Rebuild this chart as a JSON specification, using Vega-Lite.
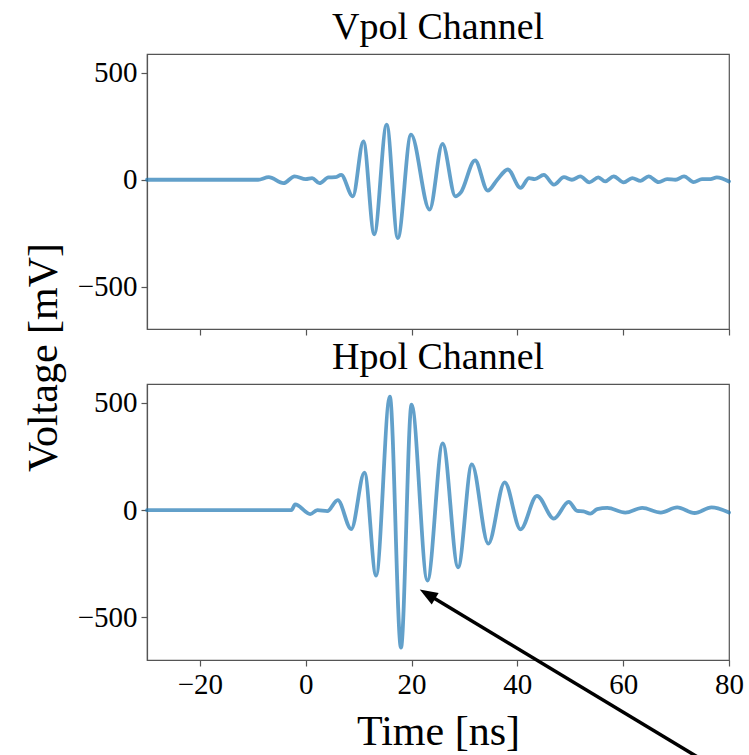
{
  "$schema": "https://vega.github.io/schema/vega-lite/v6.json",
  "background": "white",
  "padding": {"left": 21, "top": 8, "right": 10, "bottom": 0},
  "bounds": "flush",
  "spacing": 55,
  "datasets": {
    "vpol": [
      {"t": -30, "v": 0}, {"t": -9, "v": 0}, {"t": -7, "v": 12}, {"t": -4.2, "v": -16}, {"t": -2.1, "v": 16},
      {"t": 0, "v": 3}, {"t": 1.2, "v": 8}, {"t": 2.6, "v": -16}, {"t": 4.3, "v": 11}, {"t": 5.6, "v": 12},
      {"t": 6.7, "v": 23}, {"t": 8.9, "v": -78}, {"t": 10.9, "v": 180}, {"t": 12.95, "v": -255}, {"t": 15.3, "v": 258},
      {"t": 17.4, "v": -273}, {"t": 19.9, "v": 211}, {"t": 23.4, "v": -140}, {"t": 25.85, "v": 168}, {"t": 28.3, "v": -78},
      {"t": 29.3, "v": -60}, {"t": 32.0, "v": 91}, {"t": 34.4, "v": -51}, {"t": 36.2, "v": 0}, {"t": 38.2, "v": 48},
      {"t": 40.6, "v": -38}, {"t": 42.2, "v": 8}, {"t": 43.3, "v": 3}, {"t": 45.0, "v": 23}, {"t": 46.9, "v": -23},
      {"t": 48.8, "v": 12}, {"t": 50.3, "v": 0}, {"t": 51.9, "v": 16}, {"t": 53.6, "v": -12}, {"t": 55.3, "v": 11},
      {"t": 56.6, "v": -8}, {"t": 58.2, "v": 16}, {"t": 60.1, "v": -12}, {"t": 61.7, "v": 8}, {"t": 63.3, "v": -5},
      {"t": 64.8, "v": 16}, {"t": 66.7, "v": -11}, {"t": 68.3, "v": 3}, {"t": 69.9, "v": 0}, {"t": 71.5, "v": 16},
      {"t": 73.3, "v": -11}, {"t": 74.9, "v": 3}, {"t": 76.5, "v": 3}, {"t": 77.7, "v": 11}, {"t": 80, "v": -8}
    ],
    "hpol": [
      {"t": -30, "v": 0}, {"t": -2.7, "v": 0}, {"t": -2.0, "v": 27}, {"t": 0.85, "v": -18}, {"t": 2.2, "v": 0},
      {"t": 4.1, "v": -4}, {"t": 6.05, "v": 47}, {"t": 8.6, "v": -88}, {"t": 11.1, "v": 175}, {"t": 13.3, "v": -305},
      {"t": 15.9, "v": 530}, {"t": 18.0, "v": -641}, {"t": 20.0, "v": 492}, {"t": 23.0, "v": -328}, {"t": 25.9, "v": 312},
      {"t": 28.8, "v": -266}, {"t": 31.4, "v": 214}, {"t": 34.5, "v": -156}, {"t": 37.6, "v": 130}, {"t": 40.6, "v": -89},
      {"t": 43.7, "v": 67}, {"t": 46.9, "v": -39}, {"t": 49.7, "v": 39}, {"t": 51.3, "v": -3}, {"t": 52.5, "v": -5},
      {"t": 53.8, "v": -16}, {"t": 55.1, "v": 5}, {"t": 57.0, "v": 11}, {"t": 60.4, "v": -11}, {"t": 63.6, "v": 11},
      {"t": 67.1, "v": -11}, {"t": 70.2, "v": 13}, {"t": 73.5, "v": -13}, {"t": 76.7, "v": 13}, {"t": 80, "v": -11}
    ],
    "arrow": [{"t": 73.9, "v": -1148, "t2": 23.5, "v2": -399}],
    "head": [{"t": 21.55, "v": -370}]
  },
  "vconcat": [
    {
      "width": 582,
      "height": 275,
      "title": {"text": "Vpol Channel"},
      "data": {"name": "vpol"},
      "mark": {"type": "line", "interpolate": "monotone", "color": "#1f77b4", "opacity": 0.7, "strokeWidth": 3.8, "strokeCap": "round", "strokeJoin": "round"},
      "encoding": {
        "x": {"field": "t", "type": "quantitative", "scale": {"domain": [-30, 80], "nice": false, "zero": false},
              "axis": {"labels": false, "title": null, "values": [-20, 0, 20, 40, 60, 80]}},
        "y": {"field": "v", "type": "quantitative", "scale": {"domain": [-698.5, 588.5], "nice": false, "zero": false},
              "axis": {"values": [-500, 0, 500], "title": "Voltage [mV]", "titleY": 303}}
      }
    },
    {
      "width": 582,
      "height": 276,
      "title": {"text": "Hpol Channel"},
      "layer": [
        {
          "data": {"name": "hpol"},
          "mark": {"type": "line", "interpolate": "monotone", "color": "#1f77b4", "opacity": 0.7, "strokeWidth": 3.8, "strokeCap": "round", "strokeJoin": "round"},
          "encoding": {
            "x": {"field": "t", "type": "quantitative", "scale": {"domain": [-30, 80], "nice": false, "zero": false},
                  "axis": {"values": [-20, 0, 20, 40, 60, 80], "title": "Time [ns]"}},
            "y": {"field": "v", "type": "quantitative", "scale": {"domain": [-698.5, 588.5], "nice": false, "zero": false},
                  "axis": {"values": [-500, 0, 500], "title": null}}
          }
        },
        {
          "data": {"name": "arrow"},
          "mark": {"type": "rule", "clip": false, "color": "black", "strokeWidth": 3.5},
          "encoding": {
            "x": {"field": "t", "type": "quantitative"},
            "y": {"field": "v", "type": "quantitative"},
            "x2": {"field": "t2"},
            "y2": {"field": "v2"}
          }
        },
        {
          "data": {"name": "head"},
          "mark": {"type": "point", "shape": "M0,0L-0.45,1.2L0.45,1.2Z", "size": 900, "angle": 301, "filled": true, "color": "black", "opacity": 1, "strokeWidth": 0, "clip": false},
          "encoding": {
            "x": {"field": "t", "type": "quantitative"},
            "y": {"field": "v", "type": "quantitative"}
          }
        }
      ]
    }
  ],
  "config": {
    "font": "Liberation Serif",
    "view": {"stroke": "#555555", "strokeWidth": 1.2},
    "axis": {
      "grid": false,
      "domainColor": "#555555",
      "domainWidth": 1.2,
      "tickColor": "#555555",
      "tickWidth": 1.2,
      "tickSize": 6,
      "labelFont": "Liberation Serif",
      "labelFontSize": 29,
      "labelColor": "black",
      "labelPadding": 4,
      "labelFlush": false,
      "labelOverlap": false,
      "titleFont": "Liberation Serif",
      "titleFontSize": 42,
      "titleFontWeight": "normal",
      "titleColor": "black",
      "titlePadding": 12
    },
    "title": {
      "font": "Liberation Serif",
      "fontSize": 38,
      "fontWeight": "normal",
      "color": "black",
      "anchor": "middle",
      "baseline": "alphabetic",
      "offset": 7
    }
  }
}
